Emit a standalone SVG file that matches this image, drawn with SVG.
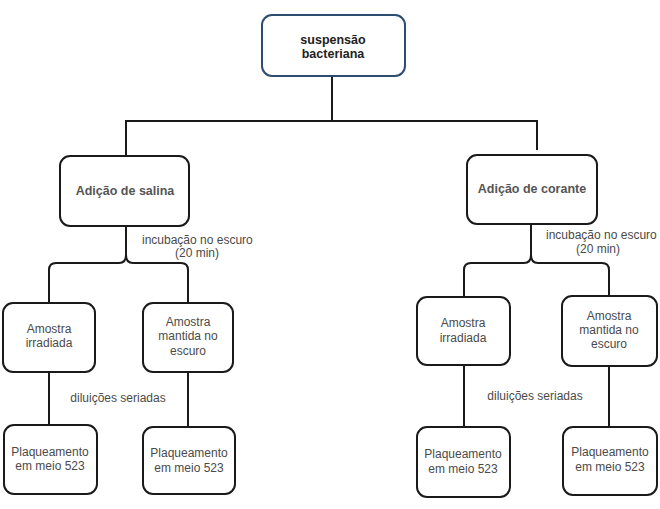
<svg xmlns="http://www.w3.org/2000/svg" width="660" height="509" viewBox="0 0 660 509">
<style>
.box{fill:#fff;stroke:#1a1a1a;stroke-width:2}
.top{fill:#fff;stroke:#2d4d70;stroke-width:2}
.t{font-family:"Liberation Sans",Arial,sans-serif;font-size:12px;fill:#4a4a4a;text-anchor:middle}
.b{font-family:"Liberation Sans",Arial,sans-serif;font-size:12.5px;font-weight:bold;fill:#555;text-anchor:middle}
.bt{font-family:"Liberation Sans",Arial,sans-serif;font-size:12.5px;font-weight:bold;fill:#222;text-anchor:middle}
.c{fill:none;stroke:#1a1a1a;stroke-width:2}
</style>
<g id="connectors">
<path class="c" d="M332,76 V121 M126,157 V121 H537 V150"/>
<path class="c" d="M126,226 V255 Q126,263 119,263 H56 Q49,263 49,270 V303 M126,255 Q126,263 133,263 H181 Q188,263 188,270 V303"/>
<path class="c" d="M531,224 V255 Q531,263 524,263 H471 Q464,263 464,270 V297 M531,255 Q531,263 538,263 H602 Q609,263 609,270 V296"/>
<path class="c" d="M49,372 V425 M188,372 V427 M464,365 V427 M609,366 V427"/>
<text class="t" x="142" y="244" style="text-anchor:start">incubação no escuro</text>
<text class="t" x="197" y="257">(20 min)</text>
<text class="t" x="546" y="239" style="text-anchor:start">incubação no escuro</text>
<text class="t" x="598" y="253">(20 min)</text>
<text class="t" x="118" y="402">diluições seriadas</text>
<text class="t" x="535" y="400">diluições seriadas</text>
</g>
<g id="n-suspensao">
<rect class="top" x="262" y="15" width="143" height="61" rx="10"/>
<text class="bt" x="333" y="44">suspensão</text>
<text class="bt" x="333" y="58">bacteriana</text>
</g>
<g id="n-salina">
<rect class="box" x="60" y="156" width="129" height="70" rx="10"/>
<text class="b" x="125" y="195">Adição de salina</text>
</g>
<g id="n-corante">
<rect class="box" x="467" y="155" width="130" height="69" rx="10"/>
<text class="b" x="532" y="193">Adição de corante</text>
</g>
<g id="n-irr-l">
<rect class="box" x="3" y="303" width="92" height="69" rx="10"/>
<text class="t" x="49" y="333">Amostra</text>
<text class="t" x="49" y="347">irradiada</text>
</g>
<g id="n-esc-l">
<rect class="box" x="143" y="303" width="90" height="69" rx="10"/>
<text class="t" x="188" y="326">Amostra</text>
<text class="t" x="188" y="340">mantida no</text>
<text class="t" x="188" y="355">escuro</text>
</g>
<g id="n-irr-r">
<rect class="box" x="417" y="297" width="93" height="68" rx="10"/>
<text class="t" x="463" y="327">Amostra</text>
<text class="t" x="463" y="342">irradiada</text>
</g>
<g id="n-esc-r">
<rect class="box" x="562" y="296" width="95" height="70" rx="10"/>
<text class="t" x="609" y="320">Amostra</text>
<text class="t" x="609" y="334">mantida no</text>
<text class="t" x="609" y="348">escuro</text>
</g>
<g id="n-plaq-1">
<rect class="box" x="4" y="425" width="93" height="69" rx="10"/>
<text class="t" x="50" y="456">Plaqueamento</text>
<text class="t" x="50" y="470">em meio 523</text>
</g>
<g id="n-plaq-2">
<rect class="box" x="143" y="427" width="92" height="67" rx="10"/>
<text class="t" x="189" y="457">Plaqueamento</text>
<text class="t" x="189" y="472">em meio 523</text>
</g>
<g id="n-plaq-3">
<rect class="box" x="417" y="427" width="93" height="70" rx="10"/>
<text class="t" x="463" y="458">Plaqueamento</text>
<text class="t" x="463" y="473">em meio 523</text>
</g>
<g id="n-plaq-4">
<rect class="box" x="563" y="427" width="94" height="68" rx="10"/>
<text class="t" x="610" y="456">Plaqueamento</text>
<text class="t" x="610" y="471">em meio 523</text>
</g>
</svg>
